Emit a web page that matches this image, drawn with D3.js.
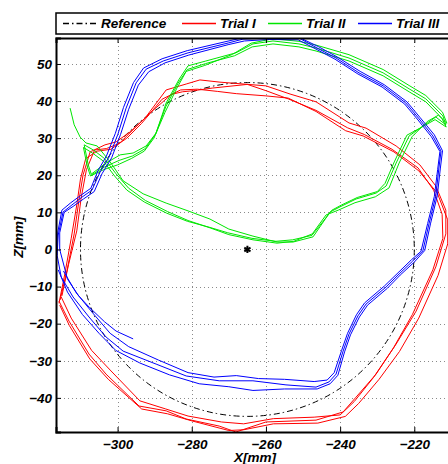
<!DOCTYPE html>
<html>
<head>
<meta charset="utf-8">
<script src="https://cdn.jsdelivr.net/npm/d3@7/dist/d3.min.js"></script>
<style>
  body { margin: 0; background: #fff; }
  svg text { font-family: "Liberation Sans", Arial, sans-serif; font-weight: bold; font-style: italic; }
</style>
</head>
<body>
<svg id="chart"></svg>
<script>
// legend / series names
const seriesNames = ["Reference", "Trial I", "Trial II", "Trial III"];
const seriesColors = ["#000000", "#ff0000", "#00e600", "#0000ff"];

// axis ticks
const xTicks = [-300, -280, -260, -240, -220];
const yTicks = [-40, -30, -20, -10, 0, 10, 20, 30, 40, 50];

// reference circle (centre x, z and radius, mm)
const refCenter = [-265, 0];
const refRadius = 45;

// Trial I (red), three repetitions, [x, z] in mm
const trial1a = [[-315.5,-13.6],[-313.6,-5.5],[-311.7,4.2],[-310.4,13.3],[-309.3,20.1],[-307.4,26.3],[-303.4,28.2],[-300.4,29.0],[-296.6,31.7],[-292.6,35.4],[-286.9,43.0],[-281.5,44.6],[-277.8,45.7],[-272.4,45.1],[-260.0,44.1],[-253.5,41.9],[-246.5,39.8],[-237.6,34.1],[-233.0,32.7],[-224.9,27.9],[-218.5,22.8],[-214.2,17.1],[-211.5,10.6],[-211.5,4.2],[-214.2,-4.7],[-219.5,-16.6],[-224.9,-25.5],[-230.3,-33.6],[-235.7,-39.8],[-239.2,-43.8],[-246.5,-46.0],[-260.0,-46.5],[-268.1,-49.2],[-272.6,-47.6],[-281.5,-45.7],[-286.9,-43.5],[-294.2,-42.2],[-303.1,-33.6],[-307.7,-28.2],[-313.1,-19.3],[-315.8,-13.9]];
const trial1b = [[-315.0,-12.5],[-313.2,-4.0],[-311.0,5.0],[-309.8,14.0],[-308.4,21.5],[-306.2,26.8],[-303.0,27.2],[-299.5,28.6],[-295.5,32.6],[-291.0,37.0],[-285.5,41.8],[-282.5,42.5],[-279.5,42.8],[-274.5,43.5],[-265.0,44.5],[-260.0,42.8],[-254.0,40.6],[-246.5,37.5],[-238.0,32.8],[-233.5,31.0],[-226.0,27.0],[-219.0,22.0],[-214.8,16.0],[-212.5,9.5],[-212.3,3.0],[-215.0,-5.5],[-220.5,-17.5],[-225.6,-26.5],[-231.0,-34.5],[-236.2,-41.0],[-240.0,-44.6],[-247.0,-45.2],[-258.0,-45.6],[-266.0,-47.0],[-272.0,-46.5],[-281.0,-44.9],[-287.0,-43.0],[-294.0,-40.8],[-302.0,-32.5],[-307.0,-27.2],[-312.5,-18.5],[-315.2,-12.8]];
const trial1c = [[-315.8,-14.5],[-314.2,-6.5],[-312.5,3.0],[-311.0,12.0],[-310.0,19.0],[-308.6,24.5],[-305.5,26.5],[-301.8,27.0],[-297.5,30.0],[-293.5,34.0],[-288.0,40.5],[-283.0,43.0],[-278.5,43.2],[-273.0,42.6],[-268.0,42.0],[-260.0,41.4],[-254.0,40.8],[-246.5,37.2],[-238.5,32.0],[-233.8,30.6],[-225.5,26.3],[-218.8,21.2],[-213.8,15.2],[-211.0,8.0],[-211.0,1.5],[-213.6,-7.0],[-218.8,-18.5],[-224.0,-27.5],[-229.5,-35.0],[-235.0,-41.5],[-238.6,-45.0],[-246.0,-46.8],[-258.0,-47.0],[-266.0,-48.6],[-270.0,-48.8],[-280.0,-46.2],[-286.5,-44.3],[-293.5,-43.0],[-302.5,-35.0],[-307.5,-29.5],[-313.0,-20.5],[-315.6,-15.0]];

// Trial II (green)
const trial2a = [[-312.8,38.1],[-311.7,33.6],[-310.1,30.3],[-308.5,28.7],[-305.5,27.9],[-302.0,23.6],[-298.5,18.5],[-293.1,15.0],[-286.9,12.5],[-281.0,10.4],[-275.1,8.2],[-270.0,5.5],[-263.5,3.6],[-257.0,2.0],[-252.7,2.0],[-247.3,3.4],[-242.7,10.1],[-240.0,11.5],[-235.7,13.6],[-230.3,15.2],[-227.6,17.1],[-224.9,23.3],[-221.4,30.6],[-216.9,33.8],[-214.2,35.7],[-211.5,33.6],[-212.3,36.0],[-216.9,40.6],[-221.4,43.3],[-228.4,47.6],[-237.6,51.6],[-246.5,54.3],[-251.1,55.4],[-258.1,56.2],[-263.5,55.4],[-268.1,53.0],[-276.2,50.8],[-281.0,49.5],[-283.4,45.9],[-286.9,39.5],[-289.6,31.4],[-292.3,27.9],[-295.8,26.0],[-299.3,25.5],[-303.1,23.3],[-307.1,20.3],[-307.9,22.8],[-309.0,28.2]];
const trial2b = [[-309.0,28.2],[-306.5,26.8],[-303.5,24.5],[-300.5,20.5],[-297.0,16.5],[-292.5,13.2],[-286.5,10.2],[-281.0,7.8],[-275.0,5.8],[-270.0,4.0],[-263.5,2.6],[-257.0,1.7],[-252.5,2.2],[-247.5,4.2],[-243.8,9.3],[-240.5,10.6],[-236.0,12.6],[-230.5,14.2],[-226.8,16.6],[-224.1,23.3],[-220.6,30.4],[-216.5,34.5],[-213.5,36.2],[-211.2,34.0],[-212.4,37.0],[-216.9,41.5],[-221.4,44.2],[-228.4,48.5],[-237.6,52.5],[-246.5,55.1],[-251.1,56.1],[-258.1,56.8],[-264.0,55.6],[-269.0,52.6],[-276.5,49.6],[-281.5,48.0],[-284.0,43.5],[-287.2,37.0],[-290.2,30.0],[-292.8,26.5],[-296.3,24.5],[-300.0,22.8],[-303.8,21.5],[-307.3,19.8],[-308.2,22.5],[-309.2,27.5]];
const trial2c = [[-309.2,27.5],[-306.8,26.0],[-303.8,23.8],[-300.8,19.8],[-297.5,16.0],[-292.8,12.8],[-286.8,9.8],[-281.2,7.6],[-275.3,6.0],[-270.3,4.5],[-263.8,3.0],[-257.3,2.2],[-252.8,2.6],[-247.6,3.8],[-242.2,10.6],[-239.6,12.0],[-235.4,14.0],[-230.0,15.6],[-227.9,17.8],[-225.4,23.6],[-222.0,30.8],[-217.2,33.4],[-214.4,35.0],[-211.4,33.0],[-212.6,35.4],[-216.9,39.8],[-221.4,42.5],[-228.4,46.8],[-237.6,50.8],[-246.5,53.5],[-251.1,54.6],[-258.1,55.4],[-263.7,54.6],[-268.5,52.2],[-276.3,50.1],[-281.2,48.5],[-283.7,44.8],[-287.0,38.5],[-289.8,31.0],[-292.5,27.2],[-296.0,25.2],[-299.6,24.0],[-303.4,22.3],[-307.2,20.0]];

// Trial III (blue)
const trial3a = [[-316.3,-1.5],[-316.0,3.9],[-314.7,10.1],[-312.3,12.0],[-309.6,14.1],[-306.9,16.0],[-304.7,20.9],[-302.3,24.9],[-299.9,31.1],[-297.7,38.1],[-295.0,44.9],[-292.3,48.6],[-287.7,50.8],[-281.0,53.0],[-270.0,55.7],[-266.2,56.7],[-259.2,57.0],[-251.1,57.0],[-246.2,54.3],[-241.1,51.6],[-234.9,47.6],[-228.4,44.1],[-222.3,39.5],[-218.7,35.2],[-215.0,30.6],[-212.8,26.5],[-213.4,21.7],[-214.2,14.4],[-216.0,7.1],[-217.7,-0.4],[-220.4,-3.1],[-224.1,-6.6],[-227.6,-10.1],[-233.0,-14.7],[-235.2,-17.9],[-237.6,-22.8],[-239.2,-27.4],[-241.1,-33.6],[-243.0,-35.7],[-246.5,-37.1],[-254.6,-36.5],[-263.5,-35.4],[-272.6,-35.4],[-281.5,-34.1],[-289.6,-30.9],[-298.5,-27.4],[-303.1,-23.6],[-307.7,-18.2],[-312.0,-12.8],[-315.2,-7.4]];
const trial3b = [[-315.2,-7.4],[-316.4,-1.0],[-316.2,4.2],[-315.0,10.6],[-312.6,12.6],[-309.9,14.6],[-307.2,16.5],[-305.3,21.2],[-303.0,25.2],[-300.6,31.3],[-298.4,38.3],[-295.7,45.0],[-293.0,48.9],[-288.0,51.4],[-281.2,53.6],[-270.5,56.1],[-266.5,57.0],[-258.0,57.0],[-250.5,56.9],[-245.9,54.7],[-240.8,51.9],[-234.6,48.0],[-228.1,44.4],[-222.0,39.8],[-218.4,35.5],[-214.6,30.9],[-212.4,26.6],[-213.0,21.7],[-213.8,14.5],[-215.6,7.1],[-217.2,-0.3],[-220.0,-3.4],[-223.8,-6.9],[-227.2,-10.4],[-232.6,-15.0],[-234.8,-18.2],[-237.2,-23.0],[-238.8,-27.6],[-240.6,-33.9],[-242.7,-36.2],[-246.2,-37.6],[-255.0,-37.6],[-263.5,-38.0],[-270.0,-37.0],[-278.0,-36.2],[-286.0,-33.8],[-294.0,-30.6],[-300.5,-27.2],[-305.0,-22.6],[-309.5,-17.5],[-313.5,-11.5],[-316.0,-5.5]];
const trial3c = [[-295.8,-24.1],[-300.4,-22.0],[-303.5,-19.5],[-307.6,-15.6],[-310.5,-12.5],[-313.5,-8.0],[-315.6,0.0],[-315.6,4.5],[-314.4,10.0],[-312.0,11.6],[-309.2,13.6],[-306.3,15.6],[-304.2,20.4],[-301.6,24.7],[-299.2,31.0],[-297.0,37.8],[-294.4,44.3],[-291.6,47.9],[-287.2,50.3],[-280.8,52.4],[-270.2,55.2],[-265.8,56.2],[-259.1,56.6],[-251.3,56.5],[-246.5,54.0],[-241.4,51.3],[-235.2,47.3],[-228.7,43.8],[-222.6,39.2],[-219.0,34.9],[-215.4,30.4],[-213.1,26.4],[-213.7,21.6],[-214.6,14.3],[-216.4,7.0],[-218.2,-0.5],[-220.8,-2.8],[-224.4,-6.3],[-228.0,-9.8],[-233.4,-14.4],[-235.6,-17.6],[-238.0,-22.6],[-239.6,-27.2],[-241.6,-33.2],[-243.5,-35.2],[-247.0,-35.6],[-255.0,-35.0],[-262.0,-34.8],[-268.0,-34.0],[-274.0,-34.4],[-281.0,-33.2],[-289.0,-29.8],[-297.0,-26.2],[-302.0,-22.6],[-306.8,-17.0],[-311.2,-11.6],[-314.6,-5.8]];

const trials = [
    { color: seriesColors[1], reps: [trial1a, trial1b, trial1c] },
    { color: seriesColors[2], reps: [trial2a, trial2b, trial2c] },
    { color: seriesColors[3], reps: [trial3a, trial3b, trial3c] }
];

const width = 448, height = 464;
const plot = { left: 56, top: 38, right: 454, bottom: 432 };
const dashDot = "6,3,1.5,3";

let svg = d3.select("#chart").attr("width", width).attr("height", height);

let x = d3.scaleLinear().domain([-316.6, -209.3]).range([plot.left, plot.right]);
let y = d3.scaleLinear().domain([-49.2, 57.0]).range([plot.bottom, plot.top]);

svg.append("defs").append("clipPath").attr("id", "clip")
  .append("rect")
    .attr("x", plot.left).attr("y", plot.top)
    .attr("width", plot.right - plot.left).attr("height", plot.bottom - plot.top);

// dotted grid
let grid = svg.append("g").attr("stroke", "#8a8a8a").attr("stroke-width", 1).attr("stroke-dasharray", "1,3");
grid.selectAll(".gx").data(xTicks).enter().append("line")
    .attr("x1", d => Math.round(x(d)) + 0.5).attr("x2", d => Math.round(x(d)) + 0.5)
    .attr("y1", plot.top).attr("y2", plot.bottom);
grid.selectAll(".gy").data(yTicks).enter().append("line")
    .attr("y1", d => Math.round(y(d)) + 0.5).attr("y2", d => Math.round(y(d)) + 0.5)
    .attr("x1", plot.left).attr("x2", plot.right);

let g = svg.append("g").attr("clip-path", "url(#clip)");

// reference circle
g.append("circle")
    .attr("cx", x(refCenter[0]))
    .attr("cy", y(refCenter[1]))
    .attr("r", x(refCenter[0] + refRadius) - x(refCenter[0]))
    .attr("fill", "none")
    .attr("stroke", seriesColors[0])
    .attr("stroke-width", 1)
    .attr("stroke-dasharray", dashDot);

let line = d3.line().x(d => x(d[0])).y(d => y(d[1]));

// trial paths
trials.forEach(function(t) {
    g.append("g")
        .attr("fill", "none")
        .attr("stroke", t.color)
        .attr("stroke-width", 1)
        .attr("stroke-linejoin", "round")
      .selectAll("path")
      .data(t.reps)
      .enter().append("path")
        .attr("d", line);
});

// centre marker
g.append("path")
    .attr("transform", "translate(" + x(refCenter[0]) + "," + y(refCenter[1]) + ")")
    .attr("d", d3.symbol(d3.symbolAsterisk, 36)())
    .attr("fill", "none")
    .attr("stroke", "#000")
    .attr("stroke-width", 2);

// axes, ticks inward
let xAxis = svg.append("g")
    .attr("transform", "translate(0," + plot.bottom + ")")
    .call(d3.axisBottom(x).tickValues(xTicks).tickSize(-5).tickPadding(7));
let xAxisTop = svg.append("g")
    .attr("transform", "translate(0," + plot.top + ")")
    .call(d3.axisTop(x).tickValues(xTicks).tickSize(-5).tickFormat(""));
let yAxis = svg.append("g")
    .attr("transform", "translate(" + plot.left + ",0)")
    .call(d3.axisLeft(y).tickValues(yTicks).tickSize(-5).tickPadding(4));

[xAxis, xAxisTop, yAxis].forEach(function(a) {
    a.select(".domain").attr("stroke", "#000").attr("stroke-width", 2);
    a.selectAll(".tick line").attr("stroke", "#000");
    a.selectAll("text")
        .attr("font-size", "13.5px").attr("fill", "#000")
        .style("font-family", "'Liberation Sans', Arial, sans-serif")
        .style("font-weight", "bold").style("font-style", "italic");
});

// axis labels
svg.append("text")
    .attr("x", 255).attr("y", 462)
    .attr("text-anchor", "middle")
    .attr("font-size", "13.5px")
    .text("X[mm]");

svg.append("text")
    .attr("transform", "translate(23,237)rotate(-90)")
    .attr("text-anchor", "middle")
    .attr("font-size", "13.5px")
    .text("Z[mm]");

// legend
const legendItems = [
    { name: seriesNames[0], color: seriesColors[0], dash: dashDot, x: 63 },
    { name: seriesNames[1], color: seriesColors[1], dash: null, x: 182 },
    { name: seriesNames[2], color: seriesColors[2], dash: null, x: 268 },
    { name: seriesNames[3], color: seriesColors[3], dash: null, x: 358 }
];

let legend = svg.append("g");
legend.append("rect")
    .attr("x", 56).attr("y", 13)
    .attr("width", 420).attr("height", 21)
    .attr("fill", "#fff").attr("stroke", "#000").attr("stroke-width", 1.5);

let item = legend.selectAll(".item")
    .data(legendItems)
    .enter().append("g")
    .attr("transform", d => "translate(" + d.x + ",23.5)");

item.append("line")
    .attr("x1", 0).attr("x2", 34)
    .attr("stroke", d => d.color)
    .attr("stroke-width", 1.4)
    .attr("stroke-dasharray", d => d.dash);

item.append("text")
    .attr("x", 38).attr("dy", "0.36em")
    .attr("font-size", "13.5px")
    .text(d => d.name);
</script>
</body>
</html>
